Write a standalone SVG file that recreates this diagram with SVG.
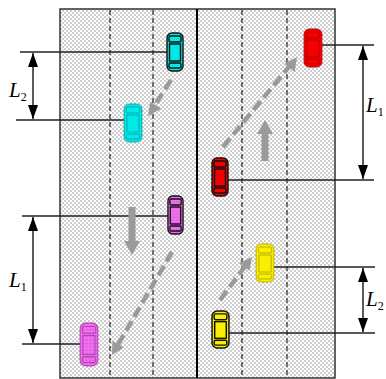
<svg xmlns="http://www.w3.org/2000/svg" width="386" height="379" viewBox="0 0 386 379">
  <style>
    .lane { stroke: #333; stroke-width: 1.3; stroke-dasharray: 5 3; fill: none; }
    .ref { stroke: #222; stroke-width: 1.3; fill: none; }
    .dim { stroke: #000; stroke-width: 1.3; fill: none; marker-start: url(#dimHead); marker-end: url(#dimHead); }
    .move { stroke: #9a9a9a; stroke-width: 4.5; stroke-dasharray: 11 5; fill: none; }
    .push { fill: #9a9a9a; }
    .lbl { font-family: "Liberation Serif", "Times New Roman", serif; font-style: italic; font-size: 21px; fill: #000; }
    .sub { font-style: normal; font-size: 12px; }
    .lead { stroke: #111; stroke-width: 1.4; }
    .trail { stroke-width: 0.9; }
  </style>
  <defs>
    <pattern id="stipple" width="4" height="4" patternUnits="userSpaceOnUse">
      <rect width="4" height="4" fill="#ffffff"/>
      <circle cx="1" cy="1" r="0.75" fill="#858585"/>
      <circle cx="3" cy="3" r="0.75" fill="#858585"/>
    </pattern>
    <pattern id="magStipple" width="3" height="3" patternUnits="userSpaceOnUse">
      <rect width="3" height="3" fill="#f070f0"/>
      <circle cx="1" cy="1" r="0.6" fill="#c040c0"/>
    </pattern>
    <marker id="dimHead" viewBox="0 0 14 10" refX="14" refY="5" markerWidth="14" markerHeight="10" markerUnits="userSpaceOnUse" orient="auto-start-reverse">
      <path d="M0,0 L14,5 L0,10 z" fill="#000"/>
    </marker>
    <!-- top view of a car, nose pointing up -->
    <symbol id="car" viewBox="0 0 18 40" preserveAspectRatio="none">
      <rect x="1" y="1" width="16" height="38" rx="5"/>
      <rect x="3" y="4" width="12" height="6" rx="1.5"/>
      <rect x="3.5" y="12" width="11" height="17"/>
      <rect x="3" y="31" width="12" height="5" rx="1.5"/>
    </symbol>
  </defs>

  <!-- carriageway -->
  <g id="road">
    <rect x="60" y="9" width="275" height="369" fill="url(#stipple)" stroke="#333" stroke-width="1.5"/>
    <line x1="197" y1="9" x2="197" y2="378" stroke="#000" stroke-width="2"/>
    <line class="lane" x1="110" y1="10" x2="110" y2="378"/>
    <line class="lane" x1="153" y1="10" x2="153" y2="378"/>
    <line class="lane" x1="242" y1="10" x2="242" y2="378"/>
    <line class="lane" x1="287" y1="10" x2="287" y2="378"/>
  </g>

  <!-- reference lines, dimension arrows and movement arrows -->
  <g id="connectors">
    <line class="ref" x1="20" y1="52" x2="168" y2="52"/>
    <line class="ref" x1="16" y1="120" x2="124" y2="120"/>
    <line class="ref" x1="22" y1="216" x2="168" y2="216"/>
    <line class="ref" x1="22" y1="344" x2="80" y2="344"/>
    <line class="ref" x1="322" y1="45" x2="374" y2="45"/>
    <line class="ref" x1="228" y1="180" x2="374" y2="180"/>
    <line class="ref" x1="274" y1="267" x2="375" y2="267"/>
    <line class="ref" x1="229" y1="333" x2="375" y2="333"/>

    <line class="dim" x1="33" y1="53" x2="33" y2="119"/>
    <line class="dim" x1="33" y1="217" x2="33" y2="343"/>
    <line class="dim" x1="363" y1="46" x2="363" y2="179"/>
    <line class="dim" x1="363" y1="268" x2="363" y2="332"/>

    <!-- lane-change paths: dashed shaft + head -->
    <line class="move" x1="171" y1="80" x2="154" y2="106.5"/>
    <polygon class="push" points="148,116 150.2,101.6 161.2,108.7"/>
    <line class="move" x1="223" y1="147" x2="289.4" y2="66.3"/>
    <polygon class="push" points="297,57 284.6,63.8 294.7,72.1"/>
    <line class="move" x1="172" y1="252" x2="117.5" y2="345.5"/>
    <polygon class="push" points="112,355 112.4,341 123.7,347.6"/>
    <line class="move" x1="220" y1="300" x2="245.5" y2="265.7"/>
    <polygon class="push" points="252,257 239.1,262.9 249.5,270.7"/>

    <!-- longitudinal moves -->
    <polygon class="push" points="261.5,161 268.5,161 268.5,134 273,134 265,120 257,134 261.5,134"/>
    <polygon class="push" points="128.5,207 135.5,207 135.5,241 140,241 132,255 124,241 128.5,241"/>
  </g>

  <!-- vehicles -->
  <g id="cyan-lead"><use href="#car" x="166" y="32" width="18" height="40" fill="#00e8e8" class="lead"/></g>
  <g id="cyan-trail"><use href="#car" x="123" y="103" width="20" height="40" fill="#00e8e8" stroke="#00a8a8" class="trail"/></g>
  <g id="red-lead"><use href="#car" x="211" y="157" width="18" height="40" fill="#f40000" class="lead"/></g>
  <g id="red-trail"><use href="#car" x="303" y="28" width="20" height="40" fill="#f40000" stroke="#b00000" class="trail"/></g>
  <g id="magenta-lead"><use href="#car" x="167" y="195" width="17" height="40" fill="url(#magStipple)" class="lead"/></g>
  <g id="magenta-trail"><use href="#car" x="79" y="322" width="20" height="45" fill="url(#magStipple)" stroke="#b040b0" class="trail"/></g>
  <g id="yellow-trail"><use href="#car" x="255" y="243" width="20" height="40" fill="#f8f000" stroke="#b8a800" class="trail"/></g>
  <g id="yellow-lead"><use href="#car" x="211" y="310" width="19" height="39" fill="#f8f000" class="lead"/></g>

  <!-- gap labels -->
  <g id="labels">
    <text class="lbl" x="9" y="97">L<tspan class="sub" dy="4">2</tspan></text>
    <text class="lbl" x="9" y="287">L<tspan class="sub" dy="4">1</tspan></text>
    <text class="lbl" x="366" y="112" font-size="20">L<tspan class="sub" dy="4" font-size="11">1</tspan></text>
    <text class="lbl" x="366" y="306" font-size="20">L<tspan class="sub" dy="4" font-size="11">2</tspan></text>
  </g>
</svg>
